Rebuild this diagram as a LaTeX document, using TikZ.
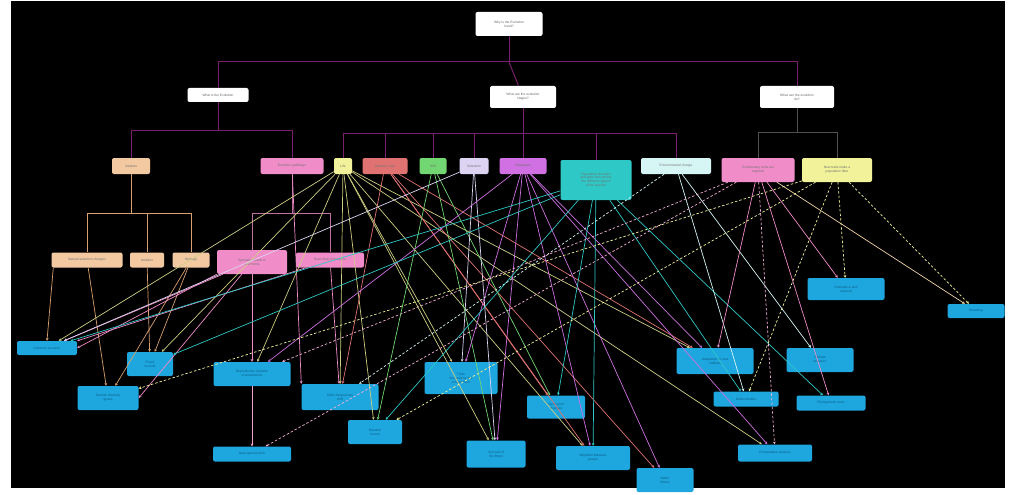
\documentclass[tikz,border=0pt]{standalone}
\usepackage{fontspec}
\setmainfont{Liberation Sans}
\usetikzlibrary{arrows.meta}
\definecolor{treec}{HTML}{7A1F6E}
\definecolor{treeg}{HTML}{505050}
\definecolor{cor}{HTML}{F3C9A2}
\definecolor{corl}{HTML}{D9A070}
\definecolor{cpk}{HTML}{F08CC8}
\definecolor{cye}{HTML}{F2F29A}
\definecolor{cre}{HTML}{E07272}
\definecolor{cgr}{HTML}{72D672}
\definecolor{cla}{HTML}{DCD4F2}
\definecolor{cmg}{HTML}{D070E2}
\definecolor{ctl}{HTML}{2EC8C6}
\definecolor{ccy}{HTML}{D6F6F6}
\definecolor{cbl}{HTML}{1EA6DE}
\definecolor{cbt}{HTML}{0E5E86}
\begin{document}
\begin{tikzpicture}[x=1pt,y=-1pt,
  box/.style={rounded corners=2pt, inner sep=0.8pt, align=center, font=\fontsize{3.3}{3.9}\selectfont},
  wb/.style={box, fill=white, text=black!60},
  ob/.style={box, fill=cor, text=black!55},
  bb/.style={box, fill=cbl, text=cbt},
  tree/.style={draw=treec, line width=1pt},
  e/.style={line width=0.7pt, -{Stealth[length=2.8pt,width=2.8pt]}},
  ed/.style={e, dashed, dash pattern=on 2.5pt off 2pt}]
\fill[white] (0,0) rectangle (1013,495);
\fill[black] (11,1) rectangle (1005,488);
\useasboundingbox (0,0) rectangle (1013,495);

% top levels
\node[wb, minimum width=67pt, minimum height=24pt] (root) at (509,24) {Why is the Evolution\\ Used?};
\node[wb, minimum width=61pt, minimum height=14pt] (A) at (218,95) {What is the Evolution};
\node[wb, minimum width=66pt, minimum height=22pt] (B) at (523,97) {What are the evolution\\ stages?};
\node[wb, minimum width=74pt, minimum height=22pt] (C) at (797,97) {What can the evolution\\ do?};

% level 2
\node[ob, minimum width=38pt, minimum height=16pt] (o1) at (131,166) {Variants};
\node[box, fill=cpk, text=black!55, minimum width=63pt, minimum height=16pt] (p1) at (292,166) {Evolution pathways};
\node[box, fill=cye, text=black!55, minimum width=18pt, minimum height=16pt] (y1) at (343,166) {Life};
\node[box, fill=cre, text=black!55, minimum width=45pt, minimum height=16pt] (rd) at (385,166) {Mutation rate};
\node[box, fill=cgr, text=black!55, minimum width=27pt, minimum height=16pt] (gr) at (433,166) {Drift};
\node[box, fill=cla, text=black!55, minimum width=29pt, minimum height=16pt] (la) at (474,166) {Selection};
\node[box, fill=cmg, text=black!55, minimum width=47pt, minimum height=16pt] (mg) at (523,166) {Adaptation};
\node[box, fill=ctl, text=black!55, minimum width=71pt, minimum height=40pt] (tl) at (596,180) {Population structure\\ and gene flow across\\ the different regions\\ of the species};
\node[box, fill=ccy, text=black!55, minimum width=70pt, minimum height=16pt] (cy) at (676,166) {Environmental change};
\node[box, fill=cpk, text=black!55, minimum width=73pt, minimum height=24pt] (p2) at (758,170) {Evolutionary tools are\\ required};
\node[box, fill=cye, text=black!55, minimum width=70pt, minimum height=24pt] (y2) at (837,170) {New traits make a\\ population fitter};

% level 3
\node[ob, minimum width=71pt, minimum height=15pt] (o2) at (87,260) {Natural selection changes};
\node[ob, minimum width=34pt, minimum height=15pt] (o3) at (147,260) {Isolation};
\node[ob, minimum width=37pt, minimum height=15pt] (o4) at (191,260) {Heritage};
\node[box, fill=cpk, text=black!55, minimum width=70pt, minimum height=24pt] (p3) at (252,262) {Speciation leads to\\ new forms};
\node[box, fill=cpk, text=black!55, minimum width=68pt, minimum height=15pt] (p4) at (330,260) {Branching of lineages};

% blue nodes
\node[bb, minimum width=60pt, minimum height=14pt] (b1) at (47,348) {Common ancestor};
\node[bb, minimum width=46pt, minimum height=24pt] (b2) at (150,364) {Fossil\\ records};
\node[bb, minimum width=61pt, minimum height=24pt] (b3) at (108,398) {Genetic diversity\\ grows};
\node[bb, minimum width=77pt, minimum height=24pt] (b4) at (252,374) {Reproductive isolation\\ of populations};
\node[bb, minimum width=77pt, minimum height=26pt] (b5) at (340,397) {Allele frequencies\\ shift};
\node[bb, minimum width=73pt, minimum height=32pt] (b6) at (461,378) {Traits\\ favoured by the\\ environment};
\node[bb, minimum width=54pt, minimum height=24pt] (b7) at (375,432) {Random\\ events};
\node[bb, minimum width=78pt, minimum height=15pt] (b8) at (252,454) {New species form};
\node[bb, minimum width=59pt, minimum height=27pt] (b9) at (496,454) {Survival of\\ the fittest};
\node[bb, minimum width=58pt, minimum height=23pt] (b10) at (556,407) {Gene pool\\ changes};
\node[bb, minimum width=74pt, minimum height=24pt] (b11) at (593,458) {Migration between\\ groups};
\node[bb, minimum width=57pt, minimum height=24pt] (b12) at (665,480) {Better\\ fitness};
\node[bb, minimum width=77pt, minimum height=26pt] (b13) at (715,361) {Adaptation to new\\ habitats};
\node[bb, minimum width=67pt, minimum height=24pt] (b14) at (820,360) {Climate\\ pressure};
\node[bb, minimum width=65pt, minimum height=15pt] (b15) at (746,399) {Model studies};
\node[bb, minimum width=69pt, minimum height=15pt] (b16) at (831,403) {Phylogenetic trees};
\node[bb, minimum width=74pt, minimum height=17pt] (b17) at (775,453) {Comparative analysis};
\node[bb, minimum width=77pt, minimum height=22pt] (b18) at (846,289) {Resistance and\\ survival};
\node[bb, minimum width=57pt, minimum height=14pt] (b19) at (976,311) {Breeding};

% tree connectors
\coordinate (j0) at (509,62);
\draw[tree] (root) -- (j0);
\draw[tree] (j0) -| (A);
\draw[tree] (j0) -| (C);
\draw[tree] (j0) -- (B);
\coordinate (ja) at (218,130);
\draw[tree] (A) -- (ja);
\draw[tree] (ja) -| (o1);
\draw[tree] (ja) -| (p1);
\coordinate (jb) at (523,133);
\draw[tree] (B) -- (jb);
\foreach \n in {y1,rd,gr,la,tl,cy} \draw[tree] (jb) -| (\n);
\draw[tree] (jb) -- (mg);
\coordinate (jc) at (797,132);
\draw[treeg, line width=1pt] (C) -- (jc);
\draw[treeg, line width=1pt] (jc) -| (p2);
\draw[treeg, line width=1pt] (jc) -| (y2);
\coordinate (jo) at (131,213);
\draw[corl, line width=0.9pt] (o1) -- (jo);
\foreach \n in {o2,o3,o4} \draw[corl, line width=0.9pt] (jo) -| (\n);
\coordinate (jp) at (292,213);
\draw[cpk!80!black, line width=0.9pt] (p1) -- (jp);
\foreach \n in {p3,p4} \draw[cpk!80!black, line width=0.9pt] (jp) -| (\n);

% orange edges
\draw[e, corl] (o2.south west) ++(2,0) -- (b1.north);
\draw[e, corl] (o2) -- (b3);
\draw[e, corl] (o3) -- (b2);
\draw[e, corl] (o4) -- (b3);
\draw[e, corl] (o4) -- (b2);

% pink edges
\draw[e, cpk] (p3) -- (b4);
\draw[e, cpk!80!white] (b4) -- (b8);
\draw[e, cpk] (p3) -- (b1);
\draw[e, cpk] (p3.south west) -- (b1.east);
\draw[e, cpk] (p4) -- (b1.north east);
\draw[e, cpk] (p3) -- (b3.east);
\draw[e, cpk] (p4) -- (b5);
\draw[e, cpk] (p1) -- (b5.north west);

% yellow hub
\foreach \t in {b1,b2,b4,b5,b7,b6,b9,b11,b13,b17}
  \draw[e, cye!85!black] (y1) -- (\t);

% red
\foreach \t in {b5,b10,b13,b11,b12}
  \draw[e, cre] (rd) -- (\t);

% green
\foreach \t in {b7,b10,b9}
  \draw[e, cgr] (gr) -- (\t);

% lavender
\foreach \t in {b1,b9,b6}
  \draw[e, cla] (la) -- (\t);

% magenta
\foreach \t in {b6,b9,b12,b13,b17,b4,b11}
  \draw[e, cmg] (mg) -- (\t);

% teal
\foreach \t in {b2,b7,b10,b15,b16,b11,b1}
  \draw[e, ctl] (tl) -- (\t);

% light cyan
\draw[e, ccy] (cy) -- (b15);
\draw[e, ccy] (cy) -- (b14);
\draw[ed, ccy] (cy) -- (b5);

% pink2
\draw[e, cpk] (p2) -- (b16);
\draw[e, cpk] (p2) -- (b13);
\draw[e, cpk] (p2) -- (b18);
\draw[e, cye!70!cpk] (p2) -- (b19);
\draw[ed, cpk!70!white] (p2) -- (b4);
\draw[ed, cpk!70!white] (p2) -- (b8);
\draw[ed, cpk!70!white] (p2) -- (b17);

% yellow2
\draw[ed, cye] (y2) -- (b18);
\draw[ed, cye] (y2) -- (b19);
\draw[ed, cye] (y2) -- (b7);
\draw[ed, cye] (y2) -- (b15);
\draw[ed, cye] (y2) -- (b3);
\end{tikzpicture}
\end{document}
